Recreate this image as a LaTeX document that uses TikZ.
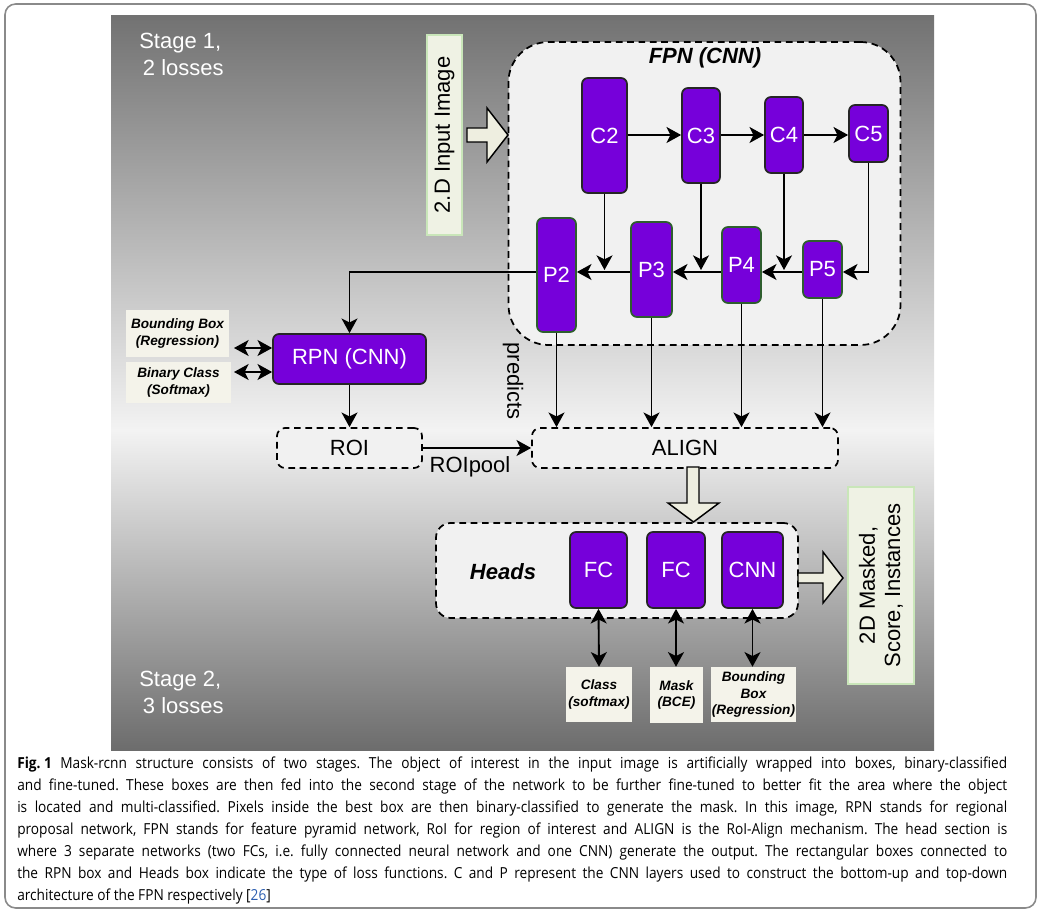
\documentclass[tikz,border=0pt]{standalone}
\usepackage{fontspec}
\setmainfont{Liberation Sans}
\newfontfamily\capfont[FakeStretch=0.9]{Open Sans}
\usetikzlibrary{arrows.meta,calc}

\definecolor{purp}{HTML}{7600DA}
\definecolor{pgreen}{HTML}{2E5E2E}
\definecolor{cream}{HTML}{F4F3EA}
\definecolor{iofill}{HTML}{EFF2E4}
\definecolor{ioline}{HTML}{C9E6B9}
\definecolor{dashfill}{HTML}{F1F1F1}
\definecolor{hollow}{HTML}{EEEEE0}
\definecolor{bgdark}{HTML}{727272}
\definecolor{bglight}{HTML}{F3F3F3}
\definecolor{framegray}{HTML}{8A8A8A}
\definecolor{citeblue}{HTML}{2A5DB0}

\newcommand\fsL{\fontsize{16.5}{19}\selectfont}
\newcommand\fsS{\fontsize{10.2}{12.4}\selectfont}
\newcommand\fsCap{\fontsize{11.4}{13}\selectfont}
% one justified caption line
\newcommand\capline[1]{\hbox to 742.5pt{#1}}
\frenchspacing

\tikzset{
  sz/.style 2 args={minimum width=#1*0.75pt, minimum height=#2*0.75pt},
  pbox/.style={draw=black!85, line width=1.3pt, fill=purp, rounded corners=4.5pt,
    text=white, font=\fsL, inner sep=0pt},
  pgbox/.style={pbox, draw=pgreen},
  dbox/.style={draw=black, dash pattern=on 5pt off 3.5pt, line width=1.3pt,
    fill=dashfill, rounded corners=6pt, inner sep=0pt, font=\fsL},
  loss/.style={fill=cream, font=\fsS\bfseries\itshape, align=center, inner sep=0pt},
  iobox/.style={fill=iofill, draw=ioline, line width=1.2pt, font=\fsL, align=center, inner sep=0pt},
  mytip/.tip={Stealth[length=11pt,width=12pt,inset=3pt]},
  arr/.style={-mytip, line width=1.4pt},
  darr/.style={mytip-mytip, line width=1.4pt},
  hollowarr/.style={fill=hollow, draw=black, line width=1.1pt, line join=miter},
  lbl/.style={font=\fsL, inner sep=0pt},
  stage/.style={font=\fsL, text=white, align=left, inner sep=0pt, anchor=north west},
  captext/.style={font=\capfont\fsCap, inner sep=0pt, anchor=base west},
}

\begin{document}
\begin{tikzpicture}[x=0.75pt,y=-0.75pt]
\useasboundingbox (0,0) rectangle (1039,912);

% card frame
\draw[framegray, line width=1.2pt, rounded corners=8pt] (5,4) rectangle (1036,908);

% background panel with a vertical gradient, lightest in the middle
\shade[top color=bgdark, bottom color=bglight] (111,16) rectangle (934,431);
\shade[top color=bglight, bottom color=bgdark!95!black] (111,430) rectangle (934,750);

% stage labels
\node[stage] (st1) at (139,33) {Stage 1,\\[1pt]\,2 losses};
\node[stage] (st2) at (139,671) {Stage 2,\\[1pt]\,3 losses};

% FPN block
\node[dbox, rounded corners=30pt, sz={392}{303}] (fpn) at (704.5,193.5) {};
\node[lbl, font=\fsL\bfseries\itshape] (fpnt) at (705,58) {FPN (CNN)};

\node[pbox, sz={45}{115}] (C2) at (604.5,135.5) {C2};
\node[pbox, sz={38}{95}]  (C3) at (701,135.5) {C3};
\node[pbox, sz={38}{76}]  (C4) at (784,135) {C4};
\node[pbox, sz={39}{57}]  (C5) at (868.5,133.5) {C5};

\node[pgbox, sz={39}{114}] (P2) at (556.5,275) {P2};
\node[pgbox, sz={41}{95}]  (P3) at (651.5,269.5) {P3};
\node[pgbox, sz={39}{76}]  (P4) at (741.5,265) {P4};
\node[pgbox, sz={39}{57}]  (P5) at (822.5,269.5) {P5};

\coordinate (cy) at (0,135);
\coordinate (hl) at (0,272);
\coordinate (hd) at (0,270);

% bottom-up path
\draw[arr] (C2.east |- cy) -- (C3.west |- cy);
\draw[arr] (C3.east |- cy) -- (C4.west |- cy);
\draw[arr] (C4.east |- cy) -- (C5.west |- cy);

% lateral links and top-down path
\draw[arr] (C2.south) -- (C2.south |- hd);
\draw[arr] (C3.south) -- (C3.south |- hd);
\draw[arr] (C4.south) -- (C4.south |- hd);
\draw[arr] (C5.south) |- (P5.east |- hl);
\draw[arr] (P5.west |- hl) -- (P4.east |- hl);
\draw[arr] (P4.west |- hl) -- (P3.east |- hl);
\draw[arr] (P3.west |- hl) -- (P2.east |- hl);

% input image
\node[iobox, rotate=90, sz={200}{35}] (inp) at (444.5,135) {2.D Input Image};
\draw[hollowarr] (467,128) -- (487,128) -- (487,108) -- (508,135) -- (487,162) -- (487,142) -- (467,142) -- cycle;

% region proposal network
\node[pbox, sz={153}{50}] (rpn) at (349.5,359) {RPN (CNN)};
\node[loss, sz={103}{47}] (bb1) at (177.5,333.5) {Bounding Box\\(Regression)};
\node[loss, sz={105}{41}] (bc1) at (178.5,382.5) {Binary Class\\(Softmax)};
\coordinate (la) at (234,348);
\coordinate (lb) at (234,372);
\draw[darr] (la) -- (rpn.west |- la);
\draw[darr] (lb) -- (rpn.west |- lb);

\draw[arr] (P2.west |- hl) -| (rpn.north);

% ROI and ALIGN
\node[dbox, sz={145}{40}] (roi) at (349.5,448) {ROI};
\node[dbox, sz={306}{40}] (align) at (685,448) {ALIGN};
\draw[arr] (rpn.south) -- (roi.north);
\draw[arr] (roi.east) -- (align.west);
\node[lbl] (pool) at (470,467) {ROIpool};
\node[lbl, rotate=-90] (pred) at (513,381) {predicts};

\draw[arr] (P2.south) -- (P2.south |- align.north);
\draw[arr] (P3.south) -- (P3.south |- align.north);
\draw[arr] (P4.south) -- (P4.south |- align.north);
\draw[arr] (P5.south) -- (P5.south |- align.north);

% heads
\node[dbox, rounded corners=11pt, sz={362}{95}] (heads) at (617,570.5) {};
\node[lbl, font=\fsL\bfseries\itshape] (headt) at (503,572) {Heads};
\node[pbox, sz={57}{76}] (fc1) at (598.5,570) {FC};
\node[pbox, sz={58}{76}] (fc2) at (676,570) {FC};
\node[pbox, sz={61}{76}] (cnn) at (752.5,570) {CNN};

\draw[hollowarr] (687,467) -- (687,503) -- (668,503) -- (693.5,522) -- (719,503) -- (699,503) -- (699,467) -- cycle;

\node[loss, sz={66}{55}] (cls) at (599,694.5) {Class\\(softmax)};
\node[loss, sz={53}{56}] (msk) at (676.5,695) {Mask\\(BCE)};
\node[loss, sz={85}{55}] (bb2) at (753.5,694.5) {Bounding\\Box\\(Regression)};
\draw[darr] (fc1.south) -- (cls.north);
\draw[darr] (fc2.south) -- (fc2.south |- msk.north);
\draw[darr] (cnn.south) -- (cnn.south |- bb2.north);

% output
\node[iobox, rotate=90, sz={197}{66}] (out) at (881,585.5) {2D Masked,\\Score, Instances};
\draw[hollowarr] (798,573) -- (823,573) -- (823,552) -- (843,578) -- (823,603) -- (823,583) -- (798,583) -- cycle;

% caption
\node[captext] (cap1) at (17,768) {\capline{\mbox{\textbf{Fig. 1}}\hspace{0.55em}Mask-rcnn structure consists of two stages. The object of interest in the input image is artificially wrapped into boxes, binary-classified}};
\node[captext] (cap2) at (17,790) {\capline{and fine-tuned. These boxes are then fed into the second stage of the network to be further fine-tuned to better fit the area where the object}};
\node[captext] (cap3) at (17,812) {\capline{is located and multi-classified. Pixels inside the best box are then binary-classified to generate the mask. In this image, RPN stands for regional}};
\node[captext] (cap4) at (17,834) {\capline{proposal network, FPN stands for feature pyramid network, RoI for region of interest and ALIGN is the RoI-Align mechanism. The head section is}};
\node[captext] (cap5) at (17,856) {\capline{where 3 separate networks (two FCs, i.e. fully connected neural network and one CNN) generate the output. The rectangular boxes connected to}};
\node[captext] (cap6) at (17,878) {\capline{the RPN box and Heads box indicate the type of loss functions. C and P represent the CNN layers used to construct the bottom-up and top-down}};
\node[captext] (cap7) at (17,900) {architecture of the FPN respectively [\textcolor{citeblue}{26}]};
\end{tikzpicture}
\end{document}
